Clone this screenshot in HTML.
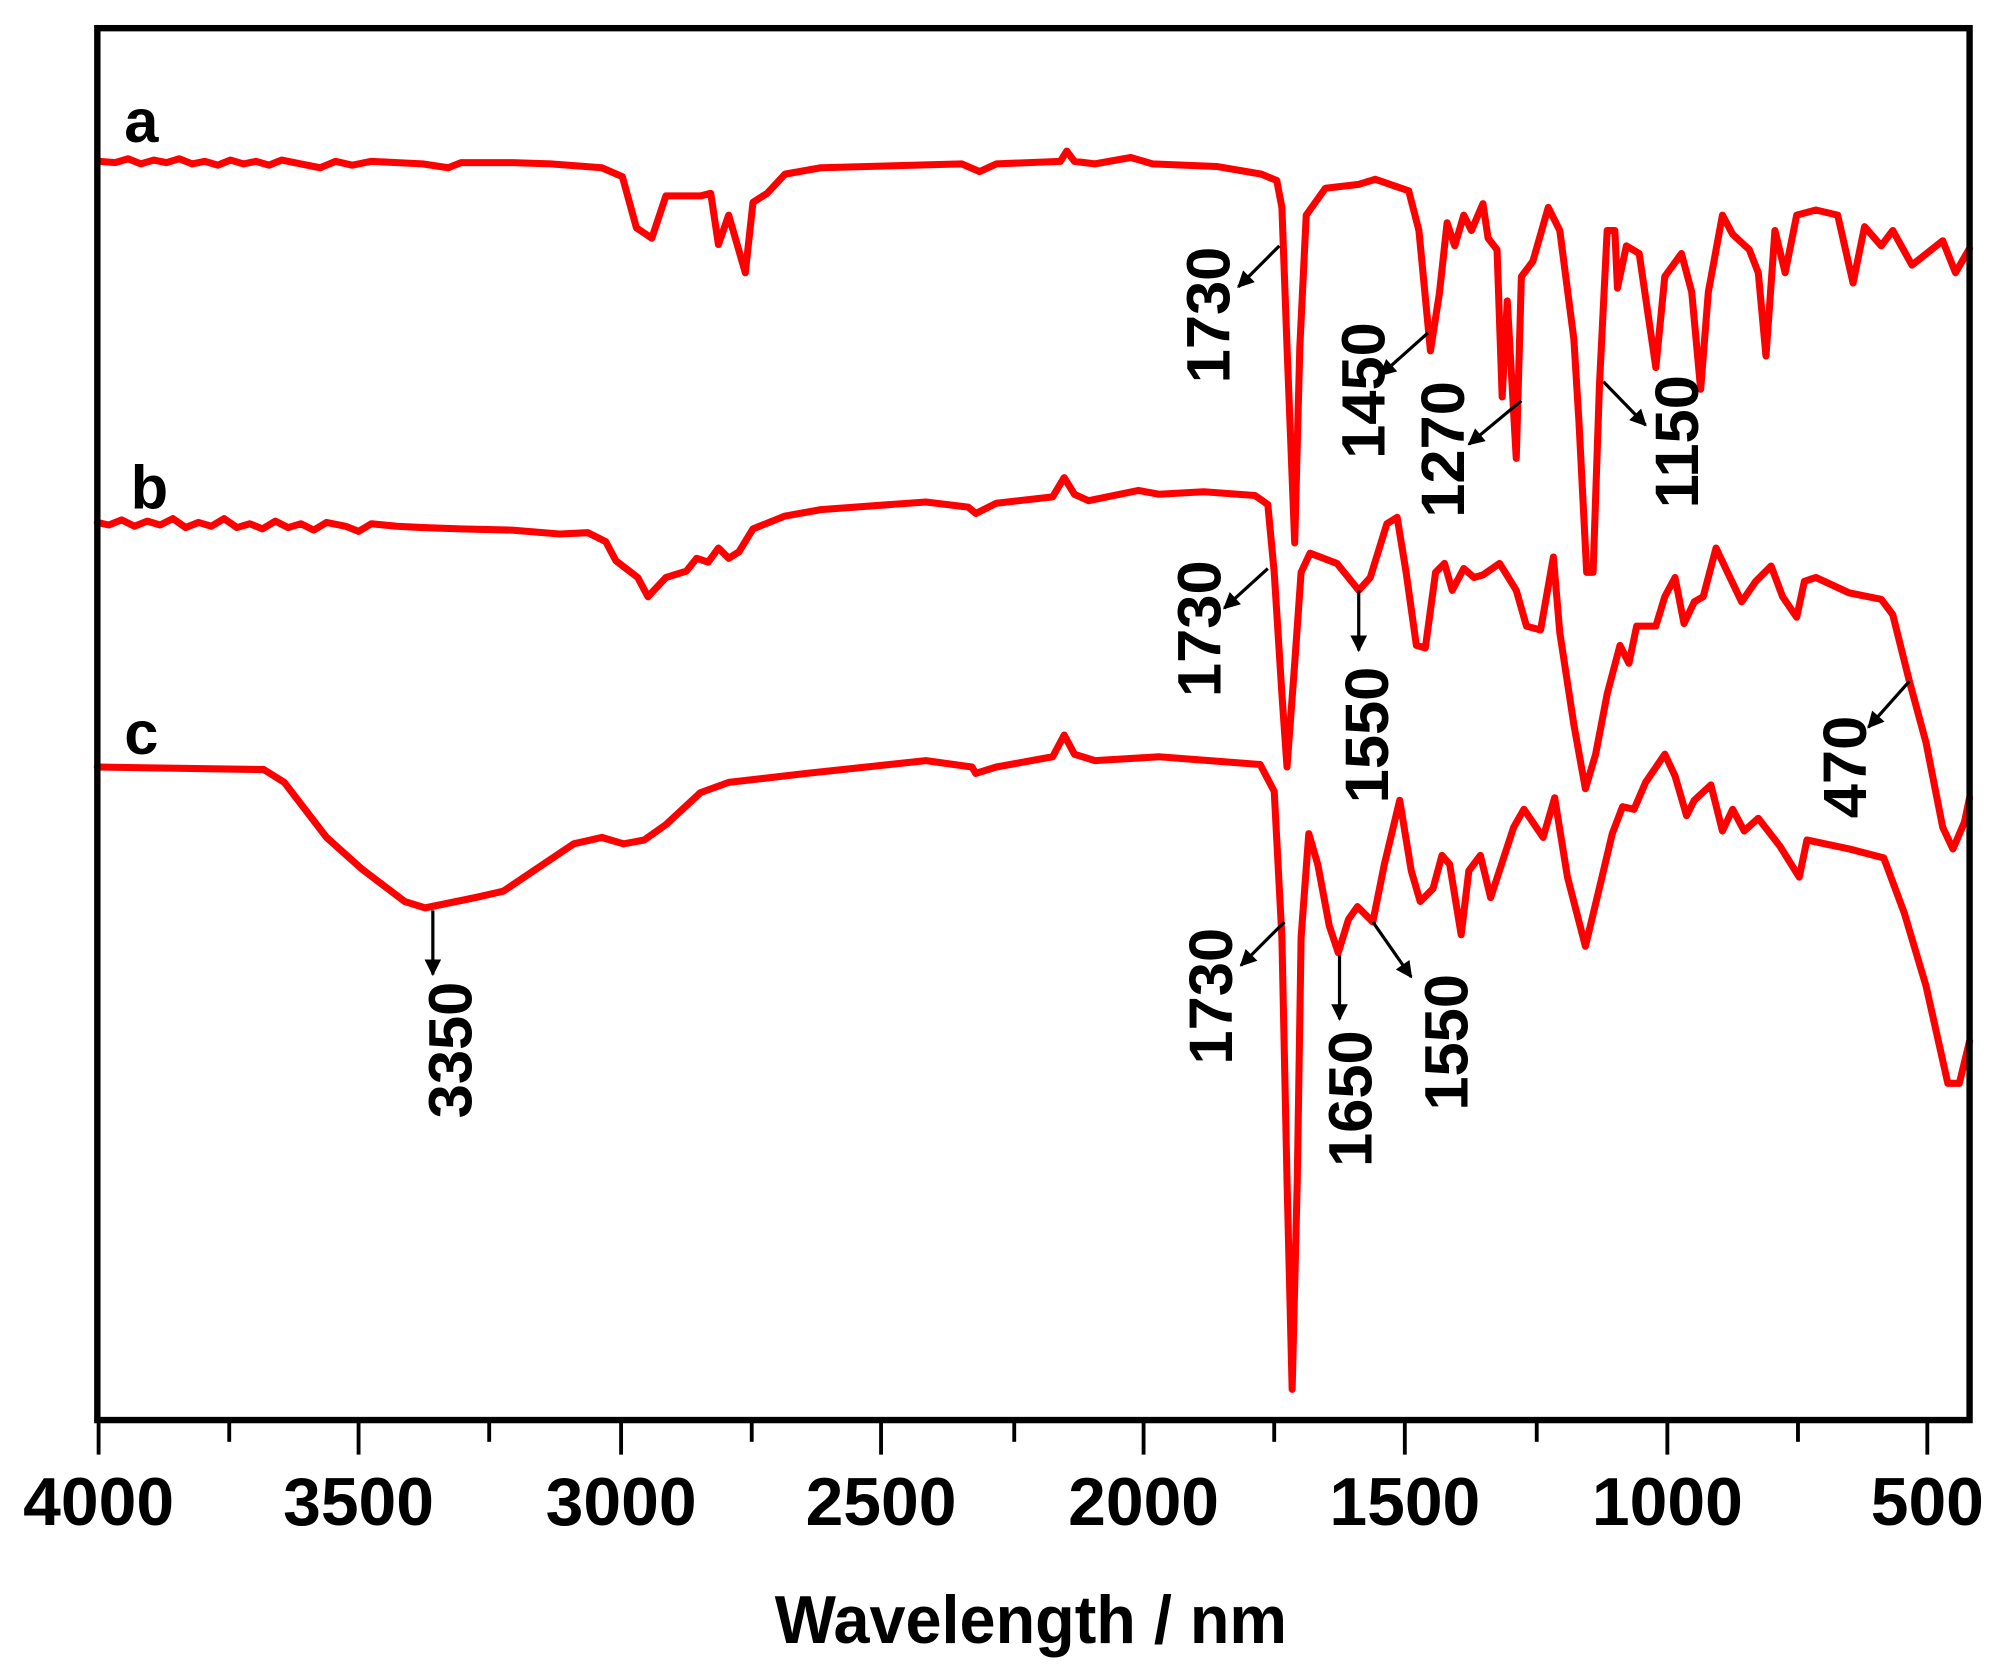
<!DOCTYPE html>
<html><head><meta charset="utf-8"><style>html,body{margin:0;padding:0;background:#fff}svg{display:block}</style></head><body>
<svg width="2008" height="1680" viewBox="0 0 1568 1312" preserveAspectRatio="none" xmlns="http://www.w3.org/2000/svg">
<defs>
<marker id="ah2" viewBox="0 0 10 10" refX="9" refY="5" markerWidth="17" markerHeight="13" markerUnits="userSpaceOnUse" orient="auto"><path d="M0,0 L10,5 L0,10 z" fill="#000"/></marker></defs>
<rect width="1568" height="1312" fill="#fff"/>
<g fill="none" stroke="#ff0000" stroke-width="5.5" stroke-linejoin="round" stroke-linecap="round">
<path d="M78,126 L90,127 100,124 110,128 120,125 130,127 140,124 150,128 160,126 170,129 180,125 190,128 200,126 210,129 220,125 235,128 250,131 262,126 275,129 290,126 310,127 330,128 350,131 360,127 400,127 430,128 470,131 486,138 497,178 509,186 520,153 547,153 555,151 561,191 569,168 582,213 588,158 599,151 613,136 641,131 751,128 765,134 778,128 828,126 833,118 839,126 855,128 883,123 900,128 950,130 985,136 997,141 1001,162 1005,271 1011,424 1015,271 1020,168 1035,147 1061,144 1074,140 1100,149 1108,180 1117,274 1124,229 1130,174 1136,192 1143,168 1149,180 1158,159 1162,186 1169,195 1173,310 1177,235 1184,358 1188,216 1197,204 1209,162 1218,180 1229,265 1233,330 1239,447 1244,447 1249,300 1255,180 1261,180 1263,225 1270,192 1280,198 1287,246 1293,287 1300,216 1313,198 1321,228 1328,304 1334,228 1345,168 1353,183 1366,195 1373,213 1379,278 1386,180 1394,213 1403,168 1418,164 1435,168 1447,221 1456,177 1469,192 1478,180 1493,207 1517,188 1527,213 1538,194"/>
<path d="M76,408 L85,410 95,406 105,411 115,407 125,410 135,405 145,412 155,408 165,411 175,405 185,412 195,409 205,413 215,407 225,412 235,409 245,414 255,408 270,411 280,415 290,409 310,411 330,412 360,413 400,414 437,417 459,416 473,423 481,438 498,451 506,466 520,451 536,446 544,436 553,439 561,428 569,436 577,431 588,413 613,403 641,398 723,392 756,396 762,401 778,393 822,388 831,373 839,386 850,391 889,383 905,386 940,384 980,387 990,394 995,447 1001,542 1005,599 1011,518 1016,447 1023,432 1044,440 1061,461 1070,451 1083,409 1091,404 1098,447 1106,504 1113,506 1121,447 1128,440 1134,461 1143,444 1151,451 1158,449 1171,440 1184,461 1192,489 1203,492 1213,435 1218,494 1229,566 1238,616 1246,589 1255,542 1265,504 1272,518 1278,489 1293,489 1300,466 1308,451 1315,487 1323,470 1330,466 1340,428 1349,447 1360,470 1371,454 1383,442 1392,466 1403,482 1409,454 1418,451 1444,463 1469,468 1478,480 1491,532 1504,580 1517,646 1525,663 1534,642 1538,623"/>
<path d="M76,599 L206,601 222,611 255,654 283,679 316,704 332,709 371,701 393,696 448,659 470,654 487,659 503,656 520,644 547,619 569,611 630,604 723,594 759,599 762,604 778,599 822,591 831,574 839,589 855,594 905,591 984,597 995,618 1001,732 1005,922 1009,1085 1013,922 1016,732 1022,651 1029,675 1038,723 1045,744 1053,718 1060,708 1072,720 1081,675 1093,625 1102,680 1109,704 1119,694 1126,668 1132,675 1141,730 1147,680 1156,668 1164,701 1182,646 1190,632 1205,654 1214,623 1224,685 1238,739 1250,689 1259,651 1267,630 1276,632 1285,611 1300,589 1308,606 1317,637 1323,625 1336,613 1345,649 1353,632 1362,649 1373,639 1390,661 1405,685 1411,656 1444,663 1471,670 1487,713 1504,770 1521,846 1530,846 1538,813"/>
</g>
<rect x="76" y="22" width="1462" height="1087" fill="none" stroke="#000" stroke-width="5"/>
<g stroke="#000" stroke-width="3">
<line x1="77" y1="1110" x2="77" y2="1136"/><line x1="280" y1="1110" x2="280" y2="1136"/><line x1="485" y1="1110" x2="485" y2="1136"/><line x1="688" y1="1110" x2="688" y2="1136"/><line x1="893" y1="1110" x2="893" y2="1136"/><line x1="1097" y1="1110" x2="1097" y2="1136"/><line x1="1302" y1="1110" x2="1302" y2="1136"/><line x1="1505" y1="1110" x2="1505" y2="1136"/>
<line x1="179" y1="1110" x2="179" y2="1126"/><line x1="382" y1="1110" x2="382" y2="1126"/><line x1="587" y1="1110" x2="587" y2="1126"/><line x1="792" y1="1110" x2="792" y2="1126"/><line x1="995" y1="1110" x2="995" y2="1126"/><line x1="1200" y1="1110" x2="1200" y2="1126"/><line x1="1404" y1="1110" x2="1404" y2="1126"/>
</g>
<g font-family="Liberation Sans, Arial, sans-serif" font-weight="bold" font-size="53" text-anchor="middle" fill="#000">
<text x="77" y="1191">4000</text><text x="280" y="1191">3500</text><text x="485" y="1191">3000</text><text x="688" y="1191">2500</text><text x="893" y="1191">2000</text><text x="1097" y="1191">1500</text><text x="1302" y="1191">1000</text><text x="1505" y="1191">500</text>
<text x="805" y="1283" textLength="400" lengthAdjust="spacingAndGlyphs">Wavelength / nm</text>
</g>
<g font-family="Liberation Sans, Arial, sans-serif" font-weight="bold" font-size="48" fill="#000">
<text x="97" y="111">a</text><text x="102" y="397">b</text><text x="97" y="589">c</text>
</g>
<g font-family="Liberation Sans, Arial, sans-serif" font-weight="bold" font-size="48" fill="#000" text-anchor="middle">
<text transform="translate(943,246) rotate(-90)" dy="17">1730</text>
<text transform="translate(1064,305) rotate(-90)" dy="17">1450</text>
<text transform="translate(1126,351) rotate(-90)" dy="17">1270</text>
<text transform="translate(1309,345) rotate(-90)" dy="17">1150</text>
<text transform="translate(936,491) rotate(-90)" dy="17">1730</text>
<text transform="translate(1067,574) rotate(-90)" dy="17">1550</text>
<text transform="translate(1440,599) rotate(-90)" dy="17">470</text>
<text transform="translate(945,778) rotate(-90)" dy="17">1730</text>
<text transform="translate(1054,858) rotate(-90)" dy="17">1650</text>
<text transform="translate(1129,814) rotate(-90)" dy="17">1550</text>
<text transform="translate(351,820) rotate(-90)" dy="17">3350</text>
</g>
<g stroke="#000" stroke-width="2.5" marker-end="url(#ah2)">
<line x1="999" y1="192" x2="967" y2="224"/>
<line x1="1115" y1="260" x2="1078" y2="293"/>
<line x1="1188" y1="313" x2="1147" y2="347"/>
<line x1="1252" y1="298" x2="1285" y2="332"/>
<line x1="990" y1="444" x2="956" y2="475"/>
<line x1="1061" y1="461" x2="1061" y2="508"/>
<line x1="1491" y1="532" x2="1459" y2="568"/>
<line x1="1003" y1="720" x2="969" y2="754"/>
<line x1="1046" y1="746" x2="1046" y2="796"/>
<line x1="1072" y1="720" x2="1102" y2="763"/>
<line x1="338" y1="711" x2="338" y2="761"/>
</g>
</svg>
</body></html>
